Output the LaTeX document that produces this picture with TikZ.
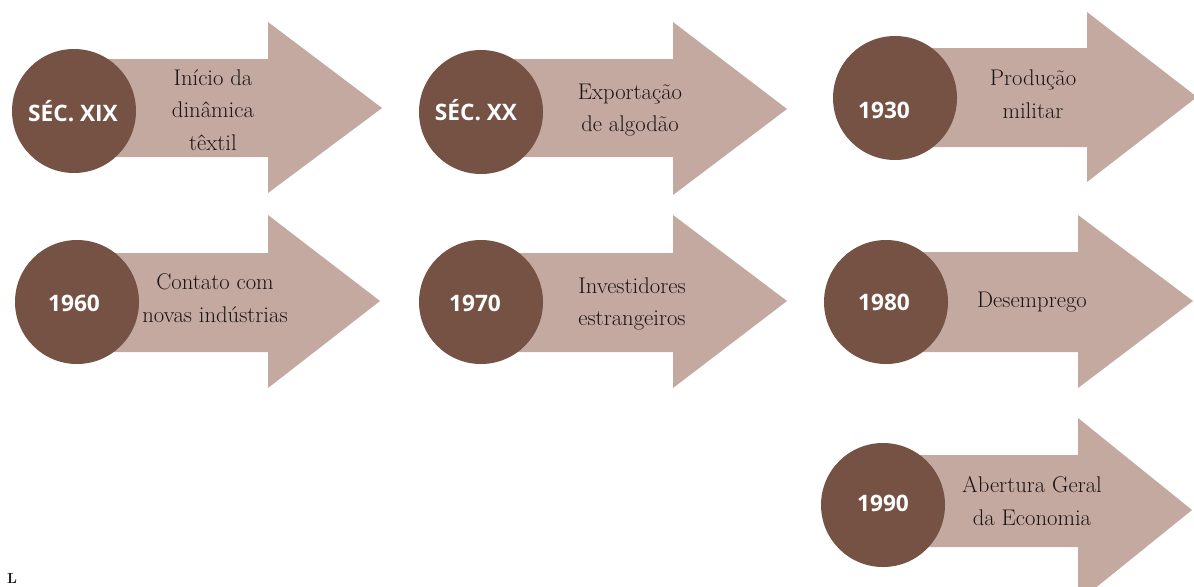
\documentclass[tikz,border=0pt]{standalone}
\usepackage{fontspec}
\setsansfont{Open Sans}
\definecolor{dark}{RGB}{118,82,68}
\definecolor{light}{RGB}{196,169,160}
\definecolor{ink}{RGB}{28,20,20}
\begin{document}
\begin{tikzpicture}[x=0.75pt,y=-0.75pt,
  arrowshape/.style={fill=light,draw=none},
  disc/.style={circle,fill=dark,draw=none,minimum size=93pt,inner sep=0pt},
  yeartext/.style={text=white,font=\sffamily\bfseries\fontsize{17}{20}\selectfont,inner sep=0pt},
  labeltext/.style={text=ink,font=\fontsize{17}{24.5}\selectfont,align=center,inner sep=0pt}]
\useasboundingbox[fill=white] (0,0) rectangle (1194,586);
% arrow bodies
\newcommand{\bigarrow}[8]{% cx, btop, bbot, hx, htop, hbot, tipx, tipy
  \fill[arrowshape] (#1,#2) -- (#4,#2) -- (#4,#5) -- (#7,#8) -- (#4,#6) -- (#4,#3) -- (#1,#3) -- cycle;}
\bigarrow{74}{59}{157}{268}{22}{193}{382}{108}
\bigarrow{481}{59}{157}{673}{22}{195}{787}{109}
\bigarrow{895}{48}{147}{1087}{12}{182}{1197}{97}
\bigarrow{77}{253}{352}{268}{215}{388}{380}{301}
\bigarrow{481}{253}{352}{673}{215}{388}{787}{301}
\bigarrow{886}{252}{352}{1078}{215}{388}{1193}{301}
\bigarrow{883}{455}{547}{1078}{418}{602}{1192}{510}
% discs
\node[disc] (c1) at (74,111) {};
\node[disc] (c2) at (481,112) {};
\node[disc] (c3) at (895,98) {};
\node[disc] (c4) at (77,302) {};
\node[disc] (c5) at (481,302) {};
\node[disc] (c6) at (886,302) {};
\node[disc] (c7) at (883,505) {};
% year texts
\node[yeartext] (y1) at (73,111) {SÉC. XIX};
\node[yeartext] (y2) at (476,110) {SÉC. XX};
\node[yeartext] (y3) at (884,110) {1930};
\node[yeartext] (y4) at (74,303) {1960};
\node[yeartext] (y5) at (475,303) {1970};
\node[yeartext] (y6) at (884,302) {1980};
\node[yeartext] (y7) at (883,503) {1990};
% labels
\node[labeltext] (l1) at (213,110) {Início da\\dinâmica\\têxtil};
\node[labeltext] (l2) at (630,110) {Exportação\\de algodão};
\node[labeltext] (l3) at (1033,94) {Produção\\militar};
\node[labeltext] (l4) at (215,298) {Contato com\\novas indústrias};
\node[labeltext] (l5) at (632,304) {Investidores\\estrangeiros};
\node[labeltext] (l6) at (1032,302) {Desemprego};
\node[labeltext] (l7) at (1032,501) {Abertura Geral\\da Economia};
\node[text=ink,font=\bfseries\fontsize{11}{11}\selectfont,inner sep=0pt] (mark) at (12,578) {L};
\end{tikzpicture}
\end{document}
